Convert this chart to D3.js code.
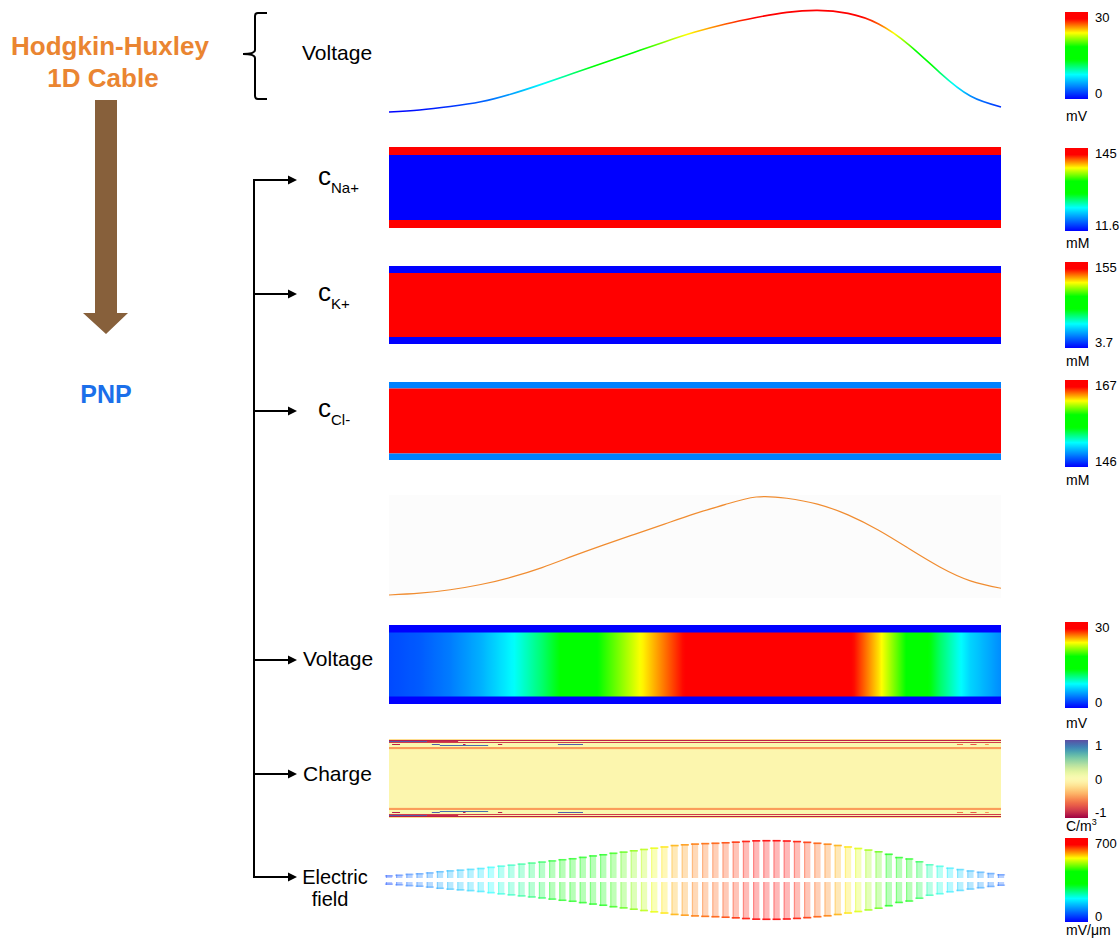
<!DOCTYPE html>
<html>
<head>
<meta charset="utf-8">
<title>Hodgkin-Huxley 1D Cable / PNP</title>
<script src="https://d3js.org/d3.v7.min.js"></script>
<style>
  body { margin: 0; background: #fff; }
  svg { display: block; font-family: "Liberation Sans", Arial, sans-serif; }
</style>
</head>
<body>
<svg id="drawing_region"></svg>
<script>
// position along the cable (% of length)
const cablePos = [0, 5, 10, 15, 20, 25, 30, 35, 40, 45, 50, 55, 60, 65, 70, 75, 80, 85, 90, 95, 100];
// Hodgkin-Huxley cable voltage (mV)
const hhVoltage = [0, 0.6, 1.6, 3.0, 5.3, 8.2, 11.3, 14.4, 17.5, 20.6, 23.5, 25.9, 27.8, 29.3, 29.9, 29.0, 25.9, 19.7, 11.6, 4.7, 1.5];
// PNP voltage in the cell (mV)
const pnpVoltage = [2.4, 3.0, 4.1, 5.8, 8.2, 11.3, 15.0, 18.6, 22.0, 25.4, 28.8, 31.8, 34.2, 33.8, 31.9, 28.4, 23.4, 17.4, 11.5, 7.0, 4.6];
// membrane band value of the voltage bar (mV)
const voltBand = 0;

// concentrations: outside / inside / outside (mM)
const naLayers = [145, 11.6, 145];
const kLayers = [3.7, 155, 3.7];
const clLayers = [149, 167, 149];

// charge density (C/m3), mesh rows from the membrane edge inwards, then the bulk
const chargeRows = [-0.2, -0.9, -0.05, -0.8, 0.02, 0.02, 0.02, 0.02, -0.45, -0.45, -0.12];
const chargeCore = -0.03;
// [from %, to %, row, value]
const chargeSpots = [
  [0, 6.2, 2, 0.95], [6.2, 11.3, 2, -0.85], [0.5, 1.8, 5, -0.9], [7, 8.3, 5, 0.95],
  [12.1, 12.5, 5, -0.9], [17.8, 18.5, 5, -0.9], [27.6, 31.7, 5, 0.95], [8.3, 16.2, 6, 0.9],
  [92.8, 93.8, 5, -0.6], [95, 96, 5, -0.7], [97.4, 98, 5, -0.5]
];

// electric field magnitude on the mesh (mV/um)
const fieldE = [50, 60, 75, 85, 100, 120, 135, 147, 160, 175, 195, 215, 232, 250, 268, 285, 305, 325, 342, 365,
  390, 410, 435, 455, 478, 500, 522, 543, 567, 580, 592, 600, 606, 615, 625, 637, 648, 650, 650, 645,
  635, 622, 606, 590, 568, 543, 517, 490, 461, 418, 362, 338, 290, 239, 213, 180, 157, 133, 111, 89, 68];

// colorbar ticks
const voltTicks = [0, 30];
const naTicks = [11.6, 145];
const kTicks = [3.7, 155];
const clTicks = [146, 167];
const chargeTicks = [-1, 0, 1];
const fieldTicks = [0, 700];

const svg = d3.select('#drawing_region').attr('width', 1119).attr('height', 939);
const defs = svg.append('defs');

const xScale = d3.scaleLinear().domain([0, 100]).range([389, 1001]);

const rainbow = d3.scaleLinear()
  .domain([0, 0.28, 0.45, 0.6, 0.76, 0.92, 1])
  .range(['#0000ff', '#00ffff', '#00ff00', '#00ff00', '#ffff00', '#ff0000', '#ff0000'])
  .clamp(true);
const spectral = v => d3.interpolateSpectral((v + 1) / 2);

function rainbowOf(domain) {
  const s = d3.scaleLinear().domain(domain).range([0, 1]).clamp(true);
  return v => rainbow(s(v));
}

// horizontal gradient along the cable
function cableGradient(id, pos, vals, colorOf) {
  const g = defs.append('linearGradient').attr('id', id)
    .attr('gradientUnits', 'userSpaceOnUse')
    .attr('x1', xScale(0)).attr('x2', xScale(100)).attr('y1', 0).attr('y2', 0);
  for (let i = 0; i < pos.length - 1; i++) {
    for (let k = 0; k < 10; k++) {
      const t = k / 10;
      const p = pos[i] + t * (pos[i + 1] - pos[i]);
      const v = vals[i] + t * (vals[i + 1] - vals[i]);
      g.append('stop').attr('offset', p / 100).attr('stop-color', colorOf(v));
    }
  }
  g.append('stop').attr('offset', 1).attr('stop-color', colorOf(vals[vals.length - 1]));
}

// ---------- left side ----------
svg.append('text').attr('x', 110).attr('y', 55).attr('text-anchor', 'middle')
  .style('font-size', '26px').style('font-weight', 'bold').attr('fill', '#ea8531').text('Hodgkin-Huxley');
svg.append('text').attr('x', 103).attr('y', 87).attr('text-anchor', 'middle')
  .style('font-size', '26px').style('font-weight', 'bold').attr('fill', '#ea8531').text('1D Cable');
svg.append('path').attr('d', 'M95,100 H117 V313 H128 L106,334 L83,313 H95 Z').attr('fill', '#87603b');
svg.append('text').attr('x', 106).attr('y', 403).attr('text-anchor', 'middle')
  .style('font-size', '25px').style('font-weight', 'bold').attr('fill', '#1b6fea').text('PNP');

// bracket + top label
svg.append('path').attr('d', 'M267,13 H258 Q255,13 255,16 V50 Q255,54 243,54 Q255,54 255,58 V96 Q255,99 258,99 H267')
  .attr('fill', 'none').attr('stroke', '#000').attr('stroke-width', 2);
svg.append('text').attr('x', 302).attr('y', 60).style('font-size', '21px').text('Voltage');

// tree of arrows
const arrowY = [180, 294, 411, 660, 774, 877];
svg.append('line').attr('x1', 254).attr('x2', 254).attr('y1', arrowY[0] - 1).attr('y2', arrowY[arrowY.length - 1] + 1)
  .attr('stroke', '#000').attr('stroke-width', 2);
arrowY.forEach(y => {
  svg.append('line').attr('x1', 254).attr('x2', 289).attr('y1', y).attr('y2', y).attr('stroke', '#000').attr('stroke-width', 2);
  svg.append('path').attr('d', `M288,${y - 4.5} L297,${y} L288,${y + 4.5} Z`).attr('fill', '#000');
});

function ionLabel(name, baseline) {
  const t = svg.append('text').attr('x', 318).attr('y', baseline);
  t.append('tspan').style('font-size', '26px').text('c');
  t.append('tspan').attr('dy', 8).style('font-size', '15px').text(name);
}
ionLabel('Na+', 185);
ionLabel('K+', 301);
ionLabel('Cl-', 417);
svg.append('text').attr('x', 303).attr('y', 666).style('font-size', '21px').text('Voltage');
svg.append('text').attr('x', 303).attr('y', 781).style('font-size', '21px').text('Charge');
svg.append('text').attr('x', 335).attr('y', 884).attr('text-anchor', 'middle').style('font-size', '20px').text('Electric');
svg.append('text').attr('x', 330).attr('y', 906).attr('text-anchor', 'middle').style('font-size', '20px').text('field');

// ---------- HH voltage line ----------
const hhColor = rainbowOf(d3.extent(voltTicks));
cableGradient('hhGrad', cablePos, hhVoltage, hhColor);
const hhY = d3.scaleLinear().domain(d3.extent(voltTicks)).range([112, 10]);
svg.append('path')
  .attr('d', d3.line().x((d, i) => xScale(cablePos[i])).y(d => hhY(d)).curve(d3.curveNatural)(hhVoltage))
  .attr('fill', 'none').attr('stroke', 'url(#hhGrad)').attr('stroke-width', 1.6);

// ---------- concentration bars ----------
function layeredBar(top, bottom, band, layers, colorOf) {
  const ys = [top, top + band, bottom - band, bottom];
  layers.forEach((v, i) => {
    svg.append('rect').attr('x', xScale(0)).attr('width', xScale(100) - xScale(0))
      .attr('y', ys[i]).attr('height', ys[i + 1] - ys[i]).attr('fill', colorOf(v));
  });
}
layeredBar(147, 228, 8, naLayers, rainbowOf(d3.extent(naTicks)));
layeredBar(266, 344, 7, kLayers, rainbowOf(d3.extent(kTicks)));
layeredBar(382, 460, 6.5, clLayers, rainbowOf(d3.extent(clTicks)));

// ---------- PNP voltage curve ----------
svg.append('rect').attr('x', xScale(0)).attr('y', 495).attr('width', xScale(100) - xScale(0)).attr('height', 103).attr('fill', '#fcfcfc');
const pnpY = d3.scaleLinear().domain(d3.extent(pnpVoltage)).range([595, 497]);
svg.append('path')
  .attr('d', d3.line().x((d, i) => xScale(cablePos[i])).y(d => pnpY(d)).curve(d3.curveNatural)(pnpVoltage))
  .attr('fill', 'none').attr('stroke', '#f08c30').attr('stroke-width', 1.2);

// ---------- PNP voltage bar ----------
const vColor = rainbowOf(d3.extent(voltTicks));
cableGradient('pnpGrad', cablePos, pnpVoltage, vColor);
svg.append('rect').attr('x', xScale(0)).attr('width', xScale(100) - xScale(0)).attr('y', 625).attr('height', 79).attr('fill', vColor(voltBand));
svg.append('rect').attr('x', xScale(0)).attr('width', xScale(100) - xScale(0)).attr('y', 632.5).attr('height', 64).attr('fill', 'url(#pnpGrad)');

// ---------- charge ----------
const chTop = 739, chBottom = 818, rowH = 1;
svg.append('rect').attr('x', xScale(0)).attr('width', xScale(100) - xScale(0))
  .attr('y', chTop).attr('height', chBottom - chTop).attr('fill', spectral(chargeCore));
chargeRows.forEach((v, r) => {
  [chTop + r * rowH, chBottom - (r + 1) * rowH].forEach(y => {
    svg.append('rect').attr('x', xScale(0)).attr('width', xScale(100) - xScale(0))
      .attr('y', y).attr('height', rowH).attr('fill', spectral(v));
  });
});
chargeSpots.forEach(([a, b, r, v]) => {
  [chTop + r * rowH, chBottom - (r + 1) * rowH].forEach(y => {
    svg.append('rect').attr('x', xScale(a)).attr('width', xScale(b) - xScale(a))
      .attr('y', y).attr('height', rowH).attr('fill', spectral(v));
  });
});

// ---------- electric field ----------
const fColor = rainbowOf(d3.extent(fieldTicks));
const fH = d3.scaleLinear().domain(d3.extent(fieldTicks)).range([0, 41]);
const fMid = 880, fGap = 2;
const step = (xScale(100) - xScale(0)) / (fieldE.length - 1);
const fg = svg.append('g');
fieldE.forEach((e, i) => {
  const cx = xScale(0) + i * step;
  const h = fH(e);
  const w = step * 0.62;
  const capOp = 0.25 + 0.65 * e / 700;
  [[fMid - fGap - h, fMid - fGap - h], [fMid + fGap, fMid + fGap + h - 1.6]].forEach(([y0, yc]) => {
    fg.append('rect').attr('x', cx - w / 2).attr('y', y0).attr('width', w).attr('height', h)
      .attr('fill', fColor(e)).attr('opacity', 0.28);
    fg.append('rect').attr('x', cx - w / 2).attr('y', y0).attr('width', 1.2).attr('height', h)
      .attr('fill', fColor(e)).attr('opacity', 0.3);
    fg.append('rect').attr('x', cx - step * 0.4).attr('y', yc).attr('width', step * 0.8).attr('height', 1.6)
      .attr('fill', fColor(e)).attr('opacity', capOp);
  });
});

// ---------- colorbars ----------
function colorbar(id, top, bottom, ticks, unit, unitY, colorAt) {
  const g = defs.append('linearGradient').attr('id', id).attr('x1', 0).attr('x2', 0).attr('y1', 1).attr('y2', 0);
  d3.range(0, 1.0001, 0.02).forEach(t => g.append('stop').attr('offset', t).attr('stop-color', colorAt(t)));
  svg.append('rect').attr('x', 1065).attr('y', top).attr('width', 23).attr('height', bottom - top).attr('fill', `url(#${id})`);
  const y = d3.scaleLinear().domain(d3.extent(ticks)).range([bottom, top]);
  ticks.forEach(v => {
    let ty = y(v) + 4.5;
    if (v === d3.max(ticks)) ty = top + 9.5;
    if (v === d3.min(ticks)) ty = bottom - 1;
    svg.append('text').attr('x', 1095).attr('y', ty).style('font-size', '13px').text(v);
  });
  return svg.append('text').attr('x', 1066).attr('y', unitY).style('font-size', '14px').text(unit);
}
colorbar('cb1', 12, 99, voltTicks, 'mV', 121, rainbow);
colorbar('cb2', 148, 231, naTicks, 'mM', 248, rainbow);
colorbar('cb3', 262, 348, kTicks, 'mM', 366, rainbow);
colorbar('cb4', 380, 467, clTicks, 'mM', 485, rainbow);
colorbar('cb5', 622, 708, voltTicks, 'mV', 728, rainbow);
const cu = colorbar('cb6', 740, 818, chargeTicks, 'C/m', 831, d3.interpolateSpectral);
cu.append('tspan').attr('dy', -6).style('font-size', '9px').text('3');
colorbar('cb7', 838, 922, fieldTicks, 'mV/μm', 935, rainbow);
</script>
</body>
</html>
